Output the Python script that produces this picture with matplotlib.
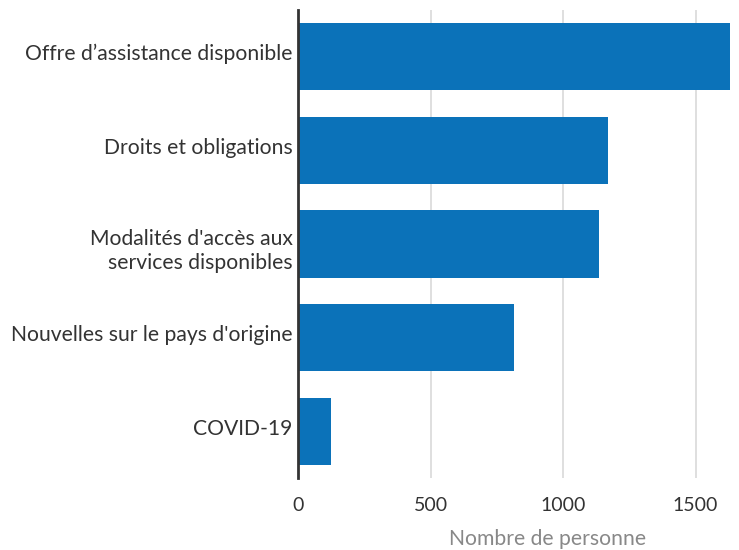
import numpy as np
import matplotlib.pyplot as plt
import matplotlib.transforms as mtransforms

plt.rcParams['font.family'] = ['Lato', 'DejaVu Sans']

categories = [
    "Offre d\u2019assistance disponible",
    "Droits et obligations",
    "Modalités d'accès aux\nservices disponibles",
    "Nouvelles sur le pays d'origine",
    "COVID-19",
]
values = [1630, 1168, 1134, 814, 124]
xticks = [0, 500, 1000, 1500]

fig = plt.figure(figsize=(7.39, 5.5), dpi=100)
ax = fig.add_axes([298 / 739, 1 - 478 / 550, 432 / 739, 468 / 550])

y = np.arange(len(categories))
ax.barh(y, values, height=0.72, color='#0b72b9', zorder=2)
ax.set_yticks(y)
labels = ax.set_yticklabels(categories, fontsize=15.2, color='#333333', linespacing=1.25)
ax.set_ylim(len(categories) - 0.5, -0.5)
ax.set_xlim(0, 1630)
ax.set_xticks(xticks)
ax.set_xticklabels([str(t) for t in xticks], fontsize=14, color='#333333')
ax.tick_params(axis='both', length=0, pad=4)
ax.tick_params(axis='x', pad=14)
ax.grid(axis='x', color='#d9d9d9', linewidth=1.2, zorder=0)
for s in ['top', 'right', 'bottom']:
    ax.spines[s].set_visible(False)
ax.spines['left'].set_color('#333333')
ax.spines['left'].set_linewidth(2)
ax.spines['left'].set_zorder(3)
ax.set_xlabel('Nombre de personne', fontsize=15.2, color='#888888')
ax.xaxis.set_label_coords((548 - 298) / 432, -0.108)

# nudge labels: single lines sit a bit high, the two-line one a bit low
for lab in labels:
    dy = -0.03 if '\n' in lab.get_text() else 0.045
    lab.set_transform(lab.get_transform() +
                      mtransforms.ScaledTranslation(0, dy, fig.dpi_scale_trans))

fig.savefig('out.png', dpi=100)
